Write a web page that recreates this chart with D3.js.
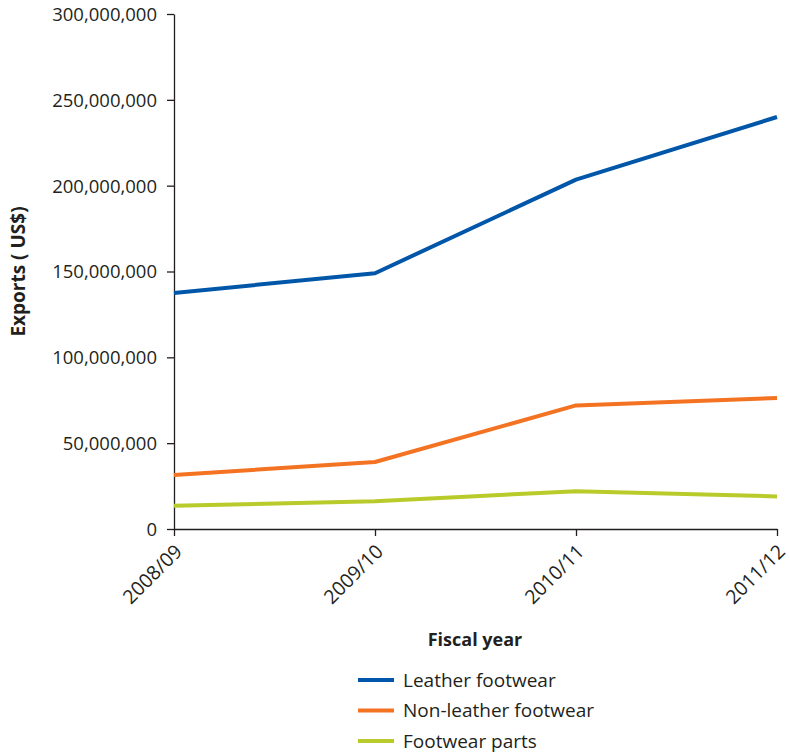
<!DOCTYPE html>
<html>
<head>
<meta charset="utf-8">
<script src="https://cdn.jsdelivr.net/npm/d3@7"></script>
<style>
  body { margin: 0; background: #fff; }
  svg { font-family: "Open Sans", "Noto Sans", sans-serif; }
  .axis text { font-family: "Open Sans", "Noto Sans", sans-serif; font-size: 18.5px; fill: #231f20; }
  .axis.x text { font-size: 19.5px; }
  .axis path, .axis line { stroke: #231f20; stroke-width: 1.3; }
</style>
</head>
<body>
<div id="chart"></div>
<script>
// chart values
var years = ["2008/09", "2009/10", "2010/11", "2011/12"];
var leather = [137500000, 149000000, 203500000, 240000000];
var nonLeather = [31500000, 39000000, 72000000, 76300000];
var parts = [13500000, 16200000, 22000000, 19000000];
var seriesNames = ["Leather footwear", "Non-leather footwear", "Footwear parts"];
var yTicks = [0, 50000000, 100000000, 150000000, 200000000, 250000000, 300000000];

var colors = ["#0056a8", "#f47322", "#b8cb2a"];

var width = 790, height = 755;
var margin = {top: 14, left: 174, right: 13, bottom: 226};

var svg = d3.select("#chart").append("svg")
    .attr("width", width)
    .attr("height", height);

var x = d3.scalePoint()
    .domain(years)
    .range([margin.left, width - margin.right]);

var y = d3.scaleLinear()
    .domain([0, 300000000])
    .range([height - margin.bottom, margin.top]);

// y axis
svg.append("g")
    .attr("class", "axis y")
    .attr("transform", "translate(" + margin.left + ",0)")
    .call(d3.axisLeft(y).tickValues(yTicks).tickSize(7).tickSizeOuter(0).tickPadding(10)
        .tickFormat(d3.format(",")))
    .call(function (g) { g.selectAll("text").attr("dy", "0.35em"); });

// x axis, labels turned 45 degrees
svg.append("g")
    .attr("class", "axis x")
    .attr("transform", "translate(0," + y(0) + ")")
    .call(d3.axisBottom(x).tickSize(7).tickSizeOuter(0))
    .selectAll("text")
    .attr("x", null)
    .attr("y", null)
    .attr("dy", "0.35em")
    .attr("text-anchor", "end")
    .attr("transform", "translate(4,19) rotate(-45)");

// lines
var line = d3.line()
    .x(function (d, i) { return x(years[i]); })
    .y(function (d) { return y(d); });

[leather, nonLeather, parts].forEach(function (s, i) {
    svg.append("path")
        .datum(s)
        .attr("fill", "none")
        .attr("stroke", colors[i])
        .attr("stroke-width", 4)
        .attr("stroke-linejoin", "round")
        .attr("d", line);
});

// axis titles
svg.append("text")
    .attr("transform", "translate(25," + y(150000000) + ") rotate(-90)")
    .attr("text-anchor", "middle")
    .attr("font-size", 19)
    .attr("font-weight", "bold")
    .attr("fill", "#231f20")
    .text("Exports ( US$)");

svg.append("text")
    .attr("x", 475)
    .attr("y", 646)
    .attr("text-anchor", "middle")
    .attr("font-size", 18)
    .attr("font-weight", "bold")
    .attr("fill", "#231f20")
    .text("Fiscal year");

// legend
var legend = svg.append("g").attr("transform", "translate(358,680)");
seriesNames.forEach(function (name, i) {
    var row = legend.append("g").attr("transform", "translate(0," + (i * 30.5) + ")");
    row.append("line")
        .attr("x1", 0).attr("x2", 36)
        .attr("stroke", colors[i])
        .attr("stroke-width", 4);
    row.append("text")
        .attr("x", 45)
        .attr("dy", "0.35em")
        .attr("font-size", 19)
        .attr("fill", "#231f20")
        .text(name);
});
</script>
</body>
</html>
